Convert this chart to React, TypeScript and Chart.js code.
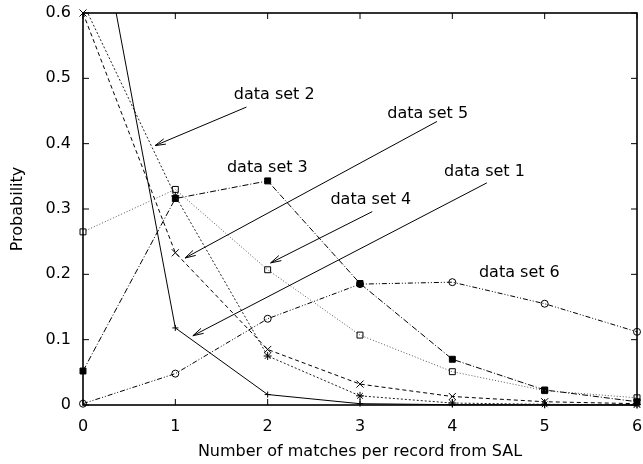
import { useEffect, useRef } from 'react';
import { Chart, registerables } from 'chart.js';

Chart.register(...registerables);

// ---- data ----
const xValues = [0, 1, 2, 3, 4, 5, 6];
const xTickLabels = ['0', '1', '2', '3', '4', '5', '6'];
const yTickLabels = ['0', '0.1', '0.2', '0.3', '0.4', '0.5', '0.6'];

const plusSeries = [0.87, 0.118, 0.016, 0.002, 0.0005, 0.0002, 0.0001];
const crossSeries = [0.6, 0.233, 0.085, 0.032, 0.013, 0.005, 0.002];
const starSeries = [0.615, 0.32, 0.075, 0.014, 0.003, 0.001, 0.0005];
const openSquareSeries = [0.265, 0.33, 0.207, 0.107, 0.051, 0.022, 0.011];
const filledSquareSeries = [0.052, 0.316, 0.343, 0.186, 0.07, 0.023, 0.005];
const circleSeries = [0.002, 0.048, 0.132, 0.185, 0.188, 0.155, 0.112];

// labels in data coordinates (left edge, vertical centre)
const labelTexts = ['data set 2', 'data set 5', 'data set 3', 'data set 4', 'data set 1', 'data set 6'];
const labelXs = [1.633, 3.295, 1.559, 2.68, 3.91, 4.288];
const labelYs = [0.475, 0.446, 0.363, 0.314, 0.357, 0.202];
// arrows in data coordinates (null = no arrow)
const arrowFromXs = [1.77, 3.834, null, 3.133, 4.374, null];
const arrowFromYs = [0.456, 0.434, null, 0.296, 0.34, null];
const arrowToXs = [0.78, 1.105, null, 2.032, 1.19, null];
const arrowToYs = [0.397, 0.225, null, 0.2175, 0.106, null];

const toPoints = (vals: number[]) => xValues.map((x, i) => ({ x, y: vals[i] }));

const FONT = '"DejaVu Sans", "Liberation Sans", sans-serif';

const framePlugin = {
  id: 'frame',
  beforeDatasetsDraw(chart: any) {
    const { ctx, chartArea: a, scales } = chart;
    const xs = scales.x;
    const ys = scales.y;
    ctx.save();
    ctx.strokeStyle = '#000';
    ctx.lineWidth = 1;
    const tl = 6;
    const seg = (x1: number, y1: number, x2: number, y2: number) => {
      ctx.beginPath();
      ctx.moveTo(x1, y1);
      ctx.lineTo(x2, y2);
      ctx.stroke();
    };
    xs.ticks.forEach((t: any) => {
      const px = xs.getPixelForValue(t.value);
      seg(px, a.bottom, px, a.bottom - tl);
      seg(px, a.top, px, a.top + tl);
    });
    ys.ticks.forEach((t: any) => {
      const py = ys.getPixelForValue(t.value);
      seg(a.left, py, a.left + tl, py);
      seg(a.right, py, a.right - tl, py);
    });
    ctx.lineWidth = 1.6;
    ctx.strokeRect(a.left, a.top, a.right - a.left, a.bottom - a.top);
    ctx.restore();
  },
};

const labelPlugin = {
  id: 'labels',
  afterDatasetsDraw(chart: any) {
    const { ctx, scales } = chart;
    const xs = scales.x;
    const ys = scales.y;
    ctx.save();
    ctx.fillStyle = '#000';
    ctx.strokeStyle = '#000';
    ctx.lineWidth = 1;
    ctx.font = `16px ${FONT}`;
    ctx.textAlign = 'left';
    ctx.textBaseline = 'middle';
    labelTexts.forEach((txt, i) => {
      ctx.fillText(txt, xs.getPixelForValue(labelXs[i]), ys.getPixelForValue(labelYs[i]));
      const fx = arrowFromXs[i];
      if (fx === null) return;
      const x1 = xs.getPixelForValue(fx);
      const y1 = ys.getPixelForValue(arrowFromYs[i] as number);
      const x2 = xs.getPixelForValue(arrowToXs[i] as number);
      const y2 = ys.getPixelForValue(arrowToYs[i] as number);
      ctx.beginPath();
      ctx.moveTo(x1, y1);
      ctx.lineTo(x2, y2);
      ctx.stroke();
      const ang = Math.atan2(y1 - y2, x1 - x2);
      const len = 11;
      const spread = 0.26;
      ctx.beginPath();
      ctx.moveTo(x2 + len * Math.cos(ang + spread), y2 + len * Math.sin(ang + spread));
      ctx.lineTo(x2, y2);
      ctx.lineTo(x2 + len * Math.cos(ang - spread), y2 + len * Math.sin(ang - spread));
      ctx.stroke();
    });
    ctx.restore();
  },
};

export default function App() {
  const ref = useRef<HTMLCanvasElement | null>(null);
  useEffect(() => {
    document.body.style.margin = '0';
    const canvas = ref.current;
    if (!canvas) return;
    Chart.defaults.font.family = FONT;
    Chart.defaults.font.size = 16;
    Chart.defaults.color = '#000';
    const clipTop0 = { left: 6, right: 6, top: 0, bottom: 6 };
    const base = {
      fill: false,
      tension: 0,
      borderWidth: 1,
      pointBorderWidth: 1,
      pointBorderColor: '#000',
      pointBackgroundColor: 'rgba(0,0,0,0)',
    };
    const chart = new Chart(canvas, {
      type: 'line',
      data: {
        datasets: [
          { ...base, label: 'plus', data: toPoints(plusSeries), borderColor: '#000', pointStyle: 'cross', pointRadius: 3, clip: clipTop0 },
          { ...base, label: 'cross', data: toPoints(crossSeries), borderColor: '#000', borderDash: [4, 3], pointStyle: 'crossRot', pointRadius: 5, clip: 6 },
          { ...base, label: 'star', data: toPoints(starSeries), borderColor: '#222', borderDash: [2, 2], pointStyle: 'star', pointRadius: 4, clip: clipTop0 },
          { ...base, label: 'openSquare', data: toPoints(openSquareSeries), borderColor: '#555', borderDash: [1, 2], pointStyle: 'rect', pointRadius: 4.2, clip: 6 },
          { ...base, label: 'filledSquare', data: toPoints(filledSquareSeries), borderColor: '#000', borderDash: [6, 2, 1, 2], pointStyle: 'rect', pointRadius: 4.2, pointBackgroundColor: '#000', clip: 6 },
          { ...base, label: 'circle', data: toPoints(circleSeries), borderColor: '#000', borderDash: [5, 2, 1, 2, 1, 2], pointStyle: 'circle', pointRadius: 3.5, clip: 6 },
        ],
      },
      options: {
        animation: false,
        responsive: false,
        maintainAspectRatio: false,
        events: [],
        layout: { padding: { left: 0, top: 13, right: 4, bottom: 0 } },
        plugins: { legend: { display: false }, tooltip: { enabled: false } },
        scales: {
          x: {
            type: 'linear',
            min: 0,
            max: 6,
            grid: { display: false, drawTicks: false },
            border: { display: false },
            ticks: {
              stepSize: 1,
              padding: 12,
              callback: (v: any) => xTickLabels[xValues.indexOf(Number(v))] ?? '',
            },
            title: {
              display: true,
              text: 'Number of matches per record from SAL',
              padding: { top: 4, bottom: 3 },
            },
            afterFit: (s: any) => {
              s.height = 59;
              s.paddingLeft = 0;
              s.paddingRight = 0;
              s.paddingTop = 0;
              s.paddingBottom = 0;
            },
          },
          y: {
            type: 'linear',
            min: 0,
            max: 0.6,
            grid: { display: false, drawTicks: false },
            border: { display: false },
            ticks: {
              stepSize: 0.1,
              padding: 12,
              callback: (v: any) => yTickLabels[Math.round(Number(v) * 10)] ?? '',
            },
            title: {
              display: true,
              text: 'Probability',
              padding: { top: 8, bottom: 0 },
            },
            afterFit: (s: any) => {
              s.width = 83;
              s.paddingLeft = 0;
              s.paddingRight = 0;
              s.paddingTop = 0;
              s.paddingBottom = 0;
            },
          },
        },
      },
      plugins: [framePlugin, labelPlugin],
    });
    return () => chart.destroy();
  }, []);
  return <canvas ref={ref} width={643} height={464} style={{ display: 'block', width: 643, height: 464 }} />;
}
